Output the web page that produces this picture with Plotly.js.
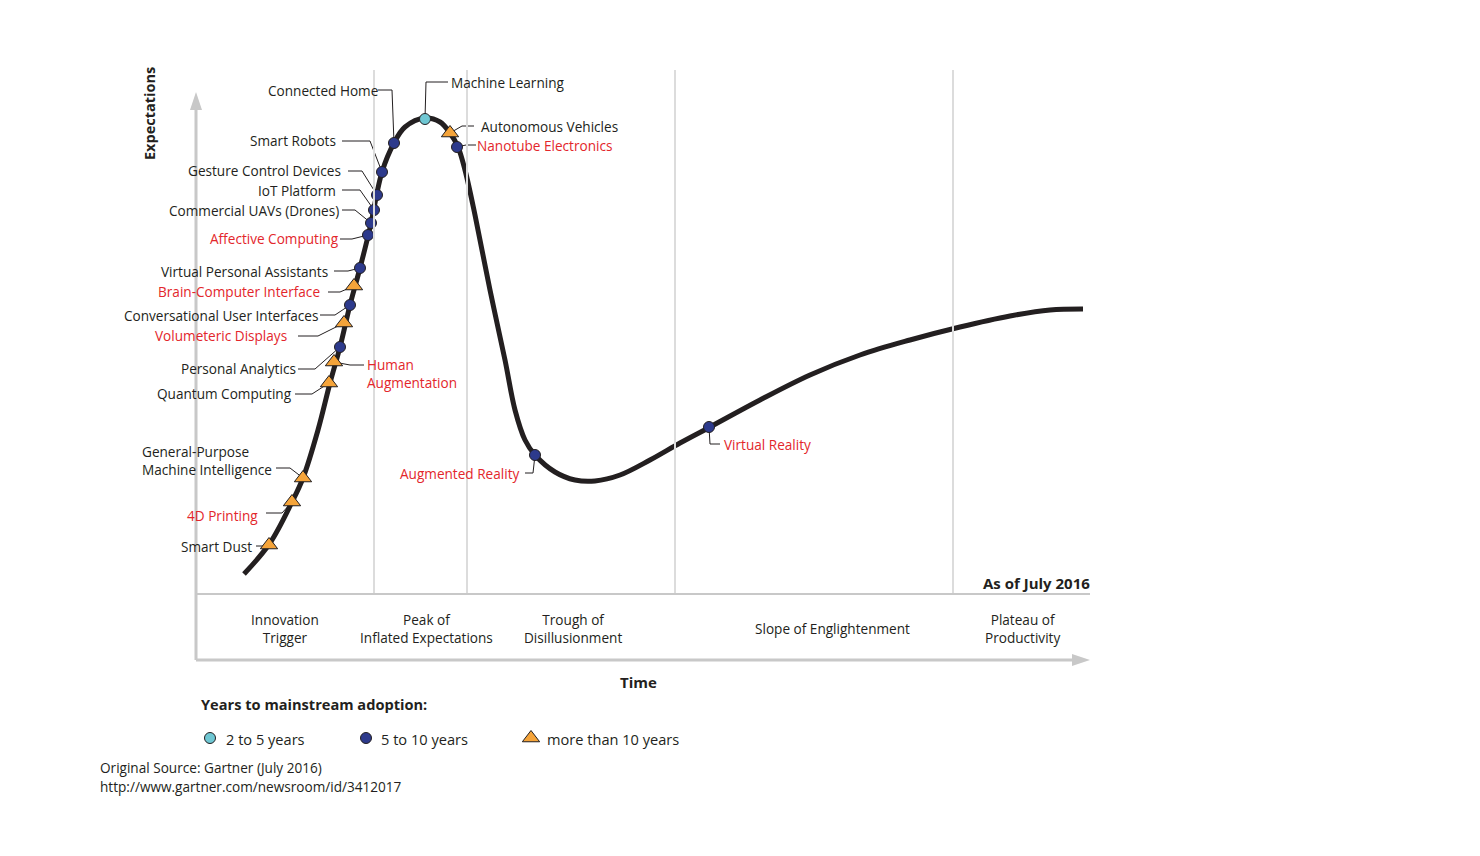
<!DOCTYPE html>
<html>
<head>
<meta charset="utf-8">
<script src="https://cdn.plot.ly/plotly-3.0.1.min.js"></script>
<style>body{margin:0;background:#fff}#chart{width:1480px;height:856px}</style>
</head>
<body>
<div id="chart"></div>
<script>
// hype curve (page units: x right, y down)
const CURVE_X = [244,270,292,303,318,330,340,350,360,370,382,394,405,425,440,450,458,465,475,490,505,515,525,535,555,575,595,620,650,680,710,760,810,860,910,960,1010,1050,1083];
const CURVE_Y = [574,543,502,478,430,383,347,305,268,228,172,143,127,118,122,133,147,170,215,290,360,410,440,455,472,480,481,475,460,443,427,400,375,355,340,327,316,310,309];

// technologies: name, group (0 = 2-5y, 1 = 5-10y, 2 = >10y), red?, point on curve
const TECH      = ['Machine Learning','Connected Home','Smart Robots','Gesture Control Devices','IoT Platform','Commercial UAVs (Drones)','Affective Computing','Virtual Personal Assistants','Conversational User Interfaces','Personal Analytics','Nanotube Electronics','Augmented Reality','Virtual Reality','Autonomous Vehicles','Brain-Computer Interface','Volumeteric Displays','Human<br>Augmentation','Quantum Computing','General-Purpose<br>Machine Intelligence','4D Printing','Smart Dust'];
const TECH_GRP  = [0,1,1,1,1,1,1,1,1,1,1,1,1,2,2,2,2,2,2,2,2];
const TECH_RED  = [0,0,0,0,0,0,1,0,0,0,1,1,1,0,1,1,1,0,0,1,0];
const TECH_X    = [425,394,382,377,374,371,368,360,350,340,457,535,709,450,354,344,334,329,303,292,269];
const TECH_Y    = [119,143,172,195,210,223,235,268,305,347,147,455,427,133,286,323,362,383,478,502,545];
// label anchor: x, y, side ('r' = text ends at x, 'l' = text starts at x), leader elbow
const LBL_X     = [450,379,337,342,337,340,340,329,319,297,476,520,723,480,321,288,366,293,273,259,253];
const LBL_Y     = [82,90,140,170,190,210,238,271,315,368,145,473,444,126,291,335,373,393,460,515,546];
const LBL_SIDE  = ['l','r','r','r','r','r','r','r','r','r','l','r','l','l','r','r','l','r','r','r','r'];
const LEAD      = [[[448,82],[426,82]],[[378,90],[392,90]],[[342,141],[370,141]],[[348,171],[362,171]],[[342,190],[360,190]],[[342,210],[355,210]],[[340,239],[352,239]],[[334,271],[348,271]],[[320,315],[335,315]],[[298,369],[315,369]],[[476,145],[466,145]],[[525,473],[533,473]],[[720,444],[710,444]],[[474,126],[462,126]],[[328,292],[340,292]],[[298,336],[318,336]],[[364,365],[350,365]],[[295,394],[312,394]],[[276,468],[290,468]],[[266,513],[282,513]],[[256,546],[262,546]]];

const PHASES   = ['Innovation<br>Trigger','Peak of<br>Inflated Expectations','Trough of<br>Disillusionment','Slope of Englightenment','Plateau of<br>Productivity'];
const PHASE_X  = [285,426,573,832,1022];
const DIVIDERS = [374,467,675,953];

const LEGEND_TXT = ['2 to 5 years','5 to 10 years','more than 10 years'];
const GROUP_SYM  = ['circle','circle','triangle-up'];
const GROUP_COL  = ['#6fc7d3','#2d3a8c','#f5a43a'];
const RED = '#e3262b', INK = '#231f20', GREY = '#c8c8c8';
const FONT = 'Open Sans, sans-serif';

const traces = [];
// leader lines
let lx = [], ly = [];
for (let i = 0; i < TECH.length; i++) {
  lx.push(LEAD[i][0][0], LEAD[i][1][0], TECH_X[i], null);
  ly.push(LEAD[i][0][1], LEAD[i][1][1], TECH_Y[i], null);
}
traces.push({x: lx, y: ly, mode: 'lines', line: {color: INK, width: 1}, hoverinfo: 'skip'});
traces.push({x: CURVE_X, y: CURVE_Y, mode: 'lines', line: {color: INK, width: 5, shape: 'spline'}, hoverinfo: 'skip'});
for (let g = 0; g < 3; g++) {
  const idx = TECH.map((t, i) => i).filter(i => TECH_GRP[i] === g);
  traces.push({
    x: idx.map(i => TECH_X[i]), y: idx.map(i => TECH_Y[i]), mode: 'markers',
    marker: {symbol: GROUP_SYM[g], size: g === 2 ? 15 : 11, color: GROUP_COL[g], line: {color: INK, width: 1}},
    text: idx.map(i => TECH[i]), hoverinfo: 'text'
  });
  // legend marker
  traces.push({x: [[210,366,531][g]], y: [738], mode: 'markers', hoverinfo: 'skip',
    marker: {symbol: GROUP_SYM[g], size: g === 2 ? 15 : 11, color: GROUP_COL[g], line: {color: INK, width: 1}}});
}

const ann = [];
function txt(x, y, text, o) {
  ann.push(Object.assign({x: x, y: y, xref: 'x', yref: 'y', text: text, showarrow: false, borderpad: 0,
    font: {family: FONT, size: 13.6, color: INK}, xanchor: 'left', yanchor: 'middle'}, o || {}));
}
for (let i = 0; i < TECH.length; i++) {
  txt(LBL_X[i], LBL_Y[i], TECH[i], {xanchor: LBL_SIDE[i] === 'l' ? 'left' : 'right', align: 'left',
    font: {family: FONT, size: 13.6, color: TECH_RED[i] ? RED : INK}});
}
PHASES.forEach((p, i) => txt(PHASE_X[i], 628, p, {xanchor: 'center'}));
txt(1091, 583, '<b>As of July 2016</b>', {xanchor: 'right', font: {family: FONT, size: 15, color: INK}});
txt(149, 114, '<b>Expectations</b>', {xanchor: 'center', textangle: -90, font: {family: FONT, size: 14.5, color: INK}});
txt(638, 682, '<b>Time</b>', {xanchor: 'center', font: {family: FONT, size: 15, color: INK}});
txt(200, 704, '<b>Years to mainstream adoption:</b>', {font: {family: FONT, size: 14.6, color: INK}});
LEGEND_TXT.forEach((t, i) => txt([225,380,546][i], 739, t, {font: {family: FONT, size: 14.6, color: INK}}));
txt(99, 767, 'Original Source: Gartner (July 2016)');
txt(99, 786, 'http://www.gartner.com/newsroom/id/3412017');

const shapes = DIVIDERS.map(d => ({type: 'line', x0: d, x1: d, y0: 70, y1: 593, line: {color: '#dcdcdc', width: 2}}));
shapes.push({type: 'line', x0: 196, x1: 1090, y0: 594, y1: 594, line: {color: GREY, width: 2}});
shapes.push({type: 'line', x0: 196, x1: 196, y0: 660, y1: 100, line: {color: GREY, width: 3}});
shapes.push({type: 'line', x0: 196, x1: 1078, y0: 660, y1: 660, line: {color: GREY, width: 3}});
shapes.push({type: 'path', path: 'M 190 110 L 196 92 L 202 110 Z', fillcolor: GREY, line: {width: 0}});
shapes.push({type: 'path', path: 'M 1072 654 L 1090 660 L 1072 666 Z', fillcolor: GREY, line: {width: 0}});

Plotly.newPlot('chart', traces, {
  width: 1480, height: 856, margin: {l: 0, r: 0, t: 0, b: 0},
  showlegend: false, paper_bgcolor: '#fff', plot_bgcolor: '#fff',
  xaxis: {range: [0, 1480], visible: false, fixedrange: true},
  yaxis: {range: [856, 0], visible: false, fixedrange: true},
  annotations: ann, shapes: shapes, font: {family: FONT}
}, {displayModeBar: false});
</script>
</body>
</html>
